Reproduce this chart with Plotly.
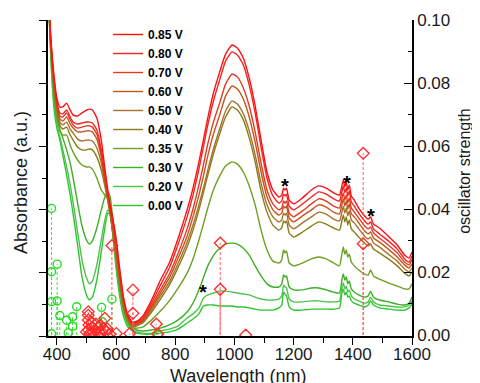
import plotly.graph_objects as go

# ---------------- data ----------------
wavelength = [371, 380, 390, 400, 410, 420, 433, 445, 455, 470,
              485, 500, 510, 520, 535, 550, 562, 572, 580, 590,
              600, 612, 625, 640, 655, 670, 690, 720, 750, 780,
              810, 840, 860, 880, 895, 910, 930, 950, 970, 992,
              1010, 1030, 1050, 1070, 1090, 1110, 1130, 1150, 1160, 1166,
              1171, 1176, 1185, 1200, 1230, 1260, 1285, 1310, 1335, 1355,
              1363, 1368, 1373, 1378, 1383, 1388, 1395, 1405, 1420, 1440,
              1452, 1460, 1470, 1490, 1520, 1550, 1575, 1590, 1600]

abs_085 = [1.08, 0.937, 0.826, 0.753, 0.725, 0.725, 0.737, 0.715, 0.699, 0.696,
           0.706, 0.715, 0.718, 0.715, 0.690, 0.620, 0.532, 0.462, 0.415, 0.367,
           0.310, 0.215, 0.123, 0.066, 0.044, 0.047, 0.063, 0.114, 0.177, 0.231,
           0.310, 0.399, 0.468, 0.551, 0.620, 0.690, 0.772, 0.835, 0.892, 0.921,
           0.911, 0.880, 0.816, 0.728, 0.620, 0.519, 0.462, 0.440, 0.446, 0.468,
           0.462, 0.468, 0.430, 0.418, 0.437, 0.462, 0.475, 0.468, 0.453, 0.446,
           0.475, 0.494, 0.472, 0.487, 0.462, 0.478, 0.443, 0.430, 0.405, 0.380,
           0.370, 0.377, 0.354, 0.342, 0.316, 0.288, 0.256, 0.247, 0.266]
abs_080 = [1.08, 0.930, 0.816, 0.740, 0.706, 0.703, 0.715, 0.693, 0.677, 0.671,
           0.674, 0.677, 0.677, 0.674, 0.652, 0.589, 0.513, 0.453, 0.408, 0.358,
           0.301, 0.206, 0.117, 0.063, 0.041, 0.044, 0.057, 0.104, 0.161, 0.215,
           0.291, 0.377, 0.446, 0.528, 0.598, 0.668, 0.747, 0.810, 0.870, 0.899,
           0.889, 0.858, 0.794, 0.706, 0.598, 0.500, 0.443, 0.421, 0.427, 0.449,
           0.443, 0.449, 0.411, 0.399, 0.418, 0.440, 0.456, 0.449, 0.434, 0.427,
           0.456, 0.475, 0.453, 0.468, 0.443, 0.459, 0.424, 0.411, 0.389, 0.364,
           0.354, 0.361, 0.339, 0.323, 0.301, 0.275, 0.244, 0.234, 0.253]
abs_070 = [1.08, 0.924, 0.810, 0.734, 0.696, 0.693, 0.706, 0.684, 0.668, 0.658,
           0.661, 0.665, 0.665, 0.661, 0.639, 0.579, 0.506, 0.446, 0.402, 0.348,
           0.288, 0.196, 0.111, 0.060, 0.038, 0.041, 0.051, 0.095, 0.146, 0.196,
           0.263, 0.339, 0.402, 0.478, 0.541, 0.608, 0.680, 0.737, 0.797, 0.829,
           0.820, 0.785, 0.728, 0.646, 0.547, 0.462, 0.418, 0.399, 0.405, 0.427,
           0.421, 0.427, 0.389, 0.377, 0.396, 0.418, 0.434, 0.427, 0.411, 0.405,
           0.434, 0.453, 0.430, 0.446, 0.421, 0.437, 0.405, 0.392, 0.373, 0.348,
           0.339, 0.345, 0.326, 0.310, 0.288, 0.263, 0.234, 0.225, 0.241]
abs_060 = [1.08, 0.918, 0.804, 0.728, 0.687, 0.680, 0.693, 0.671, 0.658, 0.646,
           0.646, 0.649, 0.649, 0.646, 0.623, 0.566, 0.497, 0.440, 0.396, 0.339,
           0.275, 0.187, 0.104, 0.057, 0.035, 0.038, 0.047, 0.089, 0.136, 0.184,
           0.247, 0.316, 0.377, 0.446, 0.506, 0.570, 0.642, 0.699, 0.759, 0.791,
           0.782, 0.750, 0.693, 0.614, 0.519, 0.440, 0.399, 0.383, 0.389, 0.411,
           0.405, 0.411, 0.373, 0.361, 0.380, 0.399, 0.415, 0.408, 0.392, 0.386,
           0.415, 0.434, 0.411, 0.427, 0.402, 0.418, 0.386, 0.377, 0.358, 0.332,
           0.323, 0.329, 0.310, 0.297, 0.275, 0.250, 0.225, 0.215, 0.228]
abs_050 = [1.08, 0.911, 0.797, 0.722, 0.677, 0.668, 0.677, 0.655, 0.642, 0.623,
           0.617, 0.620, 0.620, 0.617, 0.595, 0.547, 0.487, 0.434, 0.389, 0.329,
           0.263, 0.177, 0.098, 0.054, 0.032, 0.035, 0.044, 0.082, 0.127, 0.171,
           0.231, 0.297, 0.351, 0.415, 0.468, 0.525, 0.595, 0.655, 0.712, 0.744,
           0.734, 0.703, 0.649, 0.573, 0.484, 0.415, 0.377, 0.361, 0.367, 0.389,
           0.383, 0.389, 0.351, 0.339, 0.358, 0.377, 0.392, 0.386, 0.370, 0.364,
           0.392, 0.411, 0.389, 0.405, 0.380, 0.396, 0.367, 0.358, 0.339, 0.316,
           0.307, 0.313, 0.294, 0.282, 0.259, 0.237, 0.212, 0.203, 0.215]
abs_040 = [1.08, 0.905, 0.791, 0.715, 0.668, 0.655, 0.661, 0.636, 0.620, 0.598,
           0.589, 0.589, 0.592, 0.589, 0.566, 0.525, 0.475, 0.427, 0.383, 0.320,
           0.250, 0.168, 0.092, 0.051, 0.028, 0.032, 0.041, 0.076, 0.117, 0.161,
           0.218, 0.282, 0.335, 0.399, 0.453, 0.509, 0.579, 0.639, 0.693, 0.725,
           0.715, 0.684, 0.627, 0.551, 0.459, 0.392, 0.351, 0.335, 0.342, 0.364,
           0.358, 0.364, 0.326, 0.313, 0.329, 0.348, 0.361, 0.354, 0.342, 0.335,
           0.364, 0.383, 0.361, 0.377, 0.351, 0.367, 0.339, 0.329, 0.313, 0.294,
           0.285, 0.291, 0.275, 0.263, 0.244, 0.222, 0.199, 0.190, 0.203]
abs_035 = [1.08, 0.899, 0.778, 0.706, 0.652, 0.636, 0.636, 0.604, 0.582, 0.557,
           0.541, 0.535, 0.535, 0.528, 0.500, 0.462, 0.446, 0.434, 0.392, 0.316,
           0.241, 0.158, 0.085, 0.044, 0.025, 0.025, 0.028, 0.051, 0.079, 0.111,
           0.152, 0.199, 0.244, 0.304, 0.354, 0.405, 0.465, 0.506, 0.538, 0.551,
           0.544, 0.519, 0.475, 0.415, 0.335, 0.272, 0.237, 0.231, 0.241, 0.272,
           0.263, 0.269, 0.231, 0.222, 0.231, 0.244, 0.250, 0.244, 0.231, 0.222,
           0.259, 0.282, 0.259, 0.272, 0.250, 0.259, 0.234, 0.222, 0.209, 0.196,
           0.193, 0.209, 0.190, 0.180, 0.168, 0.158, 0.149, 0.149, 0.165]
abs_030 = [1.08, 0.905, 0.763, 0.690, 0.652, 0.627, 0.589, 0.547, 0.500, 0.421,
           0.348, 0.304, 0.291, 0.301, 0.342, 0.399, 0.440, 0.456, 0.440, 0.361,
           0.259, 0.165, 0.089, 0.044, 0.025, 0.019, 0.016, 0.019, 0.025, 0.035,
           0.051, 0.076, 0.104, 0.146, 0.184, 0.222, 0.256, 0.278, 0.291, 0.294,
           0.291, 0.278, 0.256, 0.222, 0.190, 0.165, 0.155, 0.155, 0.165, 0.193,
           0.187, 0.190, 0.155, 0.146, 0.146, 0.152, 0.152, 0.146, 0.139, 0.136,
           0.177, 0.196, 0.177, 0.187, 0.165, 0.174, 0.149, 0.139, 0.130, 0.123,
           0.127, 0.142, 0.123, 0.114, 0.108, 0.101, 0.098, 0.104, 0.123]
abs_020 = [1.08, 0.880, 0.740, 0.674, 0.630, 0.589, 0.535, 0.478, 0.421, 0.329,
           0.241, 0.184, 0.165, 0.174, 0.225, 0.304, 0.367, 0.399, 0.389, 0.316,
           0.228, 0.139, 0.073, 0.035, 0.019, 0.013, 0.009, 0.009, 0.016, 0.022,
           0.032, 0.057, 0.070, 0.089, 0.120, 0.130, 0.136, 0.142, 0.142, 0.139,
           0.136, 0.133, 0.130, 0.123, 0.117, 0.114, 0.114, 0.117, 0.127, 0.161,
           0.155, 0.152, 0.117, 0.108, 0.108, 0.111, 0.111, 0.108, 0.108, 0.111,
           0.152, 0.168, 0.149, 0.158, 0.139, 0.146, 0.127, 0.117, 0.111, 0.104,
           0.108, 0.123, 0.108, 0.098, 0.095, 0.092, 0.092, 0.098, 0.111]
abs_000 = [1.08, 0.867, 0.722, 0.658, 0.620, 0.573, 0.509, 0.446, 0.386, 0.288,
           0.187, 0.130, 0.114, 0.123, 0.177, 0.266, 0.342, 0.389, 0.386, 0.310,
           0.215, 0.127, 0.063, 0.028, 0.016, 0.009, 0.006, 0.006, 0.009, 0.013,
           0.022, 0.041, 0.054, 0.070, 0.095, 0.098, 0.098, 0.095, 0.095, 0.095,
           0.092, 0.092, 0.089, 0.085, 0.082, 0.082, 0.082, 0.089, 0.098, 0.139,
           0.133, 0.127, 0.092, 0.082, 0.082, 0.085, 0.085, 0.085, 0.085, 0.089,
           0.136, 0.149, 0.130, 0.139, 0.123, 0.127, 0.111, 0.104, 0.098, 0.092,
           0.098, 0.111, 0.098, 0.089, 0.085, 0.082, 0.082, 0.089, 0.101]

potentials = ["0.00 V", "0.20 V", "0.30 V", "0.35 V", "0.40 V",
              "0.50 V", "0.60 V", "0.70 V", "0.80 V", "0.85 V"]
spectra = [abs_000, abs_020, abs_030, abs_035, abs_040,
           abs_050, abs_060, abs_070, abs_080, abs_085]
colors = ["#2CC62C", "#4CC34C", "#3DAF25", "#6E9E22", "#8A7C16",
          "#A8702E", "#C4561C", "#E23A22", "#F42424", "#FF1010"]

# calculated transitions (oscillator strength, right axis)
green_wl = [382, 382, 382, 382, 401, 401, 410, 433, 438, 453, 453, 467, 551, 554, 586, 742]
green_f = [0.0402, 0.0201, 0.0106, 0.0004, 0.0225, 0.0108, 0.0062, 0.0047, 0.0007,
           0.0058, 0.0028, 0.0090, 0.0088, 0.0042, 0.0114, 0.0002]
red_wl = [500, 506, 506, 506, 508, 506, 511, 518, 520, 523, 530, 532, 540, 545, 548,
          551, 558, 562, 566, 570, 579, 586, 601, 646, 657, 657, 736, 741, 952, 1038, 1435, 1435]
red_f = [0.0010, 0.0074, 0.0063, 0.0048, 0.0032, 0.0016, 0.0005, 0.0040, 0.0025, 0.0010,
         0.0015, 0.0035, 0.0025, 0.0008, 0.0030, 0.0010, 0.0020, 0.0053, 0.0010, 0.0020,
         0.0003, 0.0284, 0.0005, 0.0005, 0.0143, 0.0069, 0.0035, 0.0003, 0.0292, 0.0000,
         0.0577, 0.0290]
red_solid_wl = [952]
red_solid_f = [0.0145]

star_wl = [893, 1171, 1379, 1462]
star_f = [0.0137, 0.0472, 0.0482, 0.0379]

for s in spectra:
    assert len(s) == len(wavelength)

FONT = "Arial, Liberation Sans, sans-serif"

fig = go.Figure()
for name, vals, col in zip(potentials, spectra, colors):
    fig.add_trace(go.Scatter(x=wavelength, y=vals, mode="lines", name=name,
                             line=dict(color=col, width=1.4, shape="spline", smoothing=0.5)))


def stems(xs, fs):
    sx, sy = [], []
    for x, f in zip(xs, fs):
        sx += [x, x, None]
        sy += [0, f, None]
    return sx, sy


gx, gy = stems(green_wl, green_f)
fig.add_trace(go.Scatter(x=gx, y=gy, yaxis="y2", mode="lines", showlegend=False,
                         line=dict(color="#3FDD3F", width=1, dash="3px,2px")))
rx, ry = stems(red_wl, red_f)
fig.add_trace(go.Scatter(x=rx, y=ry, yaxis="y2", mode="lines", showlegend=False,
                         line=dict(color="#FF5A5A", width=1, dash="3px,2px")))
sx, sy = stems(red_solid_wl, red_solid_f)
fig.add_trace(go.Scatter(x=sx, y=sy, yaxis="y2", mode="lines", showlegend=False,
                         line=dict(color="#FF8080", width=1.2)))
fig.add_trace(go.Scatter(x=green_wl, y=green_f, yaxis="y2", mode="markers", showlegend=False,
                         marker=dict(symbol="circle-open", size=8, color="#22DD22",
                                     line=dict(width=1.4, color="#22DD22"))))
fig.add_trace(go.Scatter(x=red_wl + red_solid_wl, y=red_f + red_solid_f, yaxis="y2",
                         mode="markers", showlegend=False,
                         marker=dict(symbol="diamond-open", size=9, color="#FF2A2A",
                                     line=dict(width=1.3, color="#FF2A2A"))))

for x, f in zip(star_wl, star_f):
    fig.add_annotation(x=x, y=f, xref="x", yref="y2", text="*", showarrow=False,
                       font=dict(family=FONT, size=20, color="black", weight="bold"))

axis_common = dict(showgrid=False, zeroline=False, showline=True, linecolor="black",
                   linewidth=1.6, tickcolor="black", tickwidth=1.4, automargin=False,
                   tickfont=dict(family=FONT, size=17, color="#1a1a1a"))

# the page body adds an 8 px offset, so the figure is 8 px smaller than the window
fig.update_layout(
    width=472, height=375,
    margin=dict(l=40, r=68, t=12, b=47),
    paper_bgcolor="white", plot_bgcolor="white",
    font=dict(family=FONT, color="black"),
    xaxis=dict(range=[370, 1600], tick0=400, dtick=200, ticks="outside", ticklen=7,
               ticklabelstandoff=-5,
               minor=dict(dtick=100, tick0=400, ticks="outside", ticklen=5,
                          tickcolor="black", tickwidth=1.4),
               **axis_common),
    yaxis=dict(range=[0, 1.0], tick0=0, dtick=0.2, ticks="outside", ticklen=7,
               showticklabels=False,
               minor=dict(dtick=0.1, ticks="outside", ticklen=4, tickcolor="black",
                          tickwidth=1.4),
               **axis_common),
    yaxis2=dict(range=[-0.0003, 0.1], overlaying="y", side="right", tick0=0, dtick=0.02,
                tickformat=".2f", ticks="inside", ticklen=8,
                minor=dict(dtick=0.01, ticks="inside", ticklen=4, tickcolor="black",
                           tickwidth=1.4),
                **axis_common),
    legend=dict(x=0.165, y=1.0, xanchor="left", yanchor="top", traceorder="reversed",
                bgcolor="rgba(0,0,0,0)", borderwidth=0,
                font=dict(family=FONT, size=12, color="black", weight="bold")),
    showlegend=True,
)

fig.add_annotation(text="Absorbance (a.u.)", xref="paper", yref="paper",
                   x=-0.074, y=0.484, xanchor="center", yanchor="middle",
                   textangle=-90, showarrow=False,
                   font=dict(family=FONT, size=18, color="#1a1a1a"))
fig.add_annotation(text="oscillator strength", xref="paper", yref="paper",
                   x=1.146, y=0.52, xanchor="center", yanchor="middle",
                   textangle=-90, showarrow=False,
                   font=dict(family=FONT, size=16, color="#1a1a1a"))
fig.add_annotation(text="Wavelength (nm)", xref="paper", yref="paper",
                   x=0.522, y=-0.088, xanchor="center", yanchor="top", showarrow=False,
                   font=dict(family=FONT, size=18, color="#1a1a1a"))

fig.write_html("out.html")
